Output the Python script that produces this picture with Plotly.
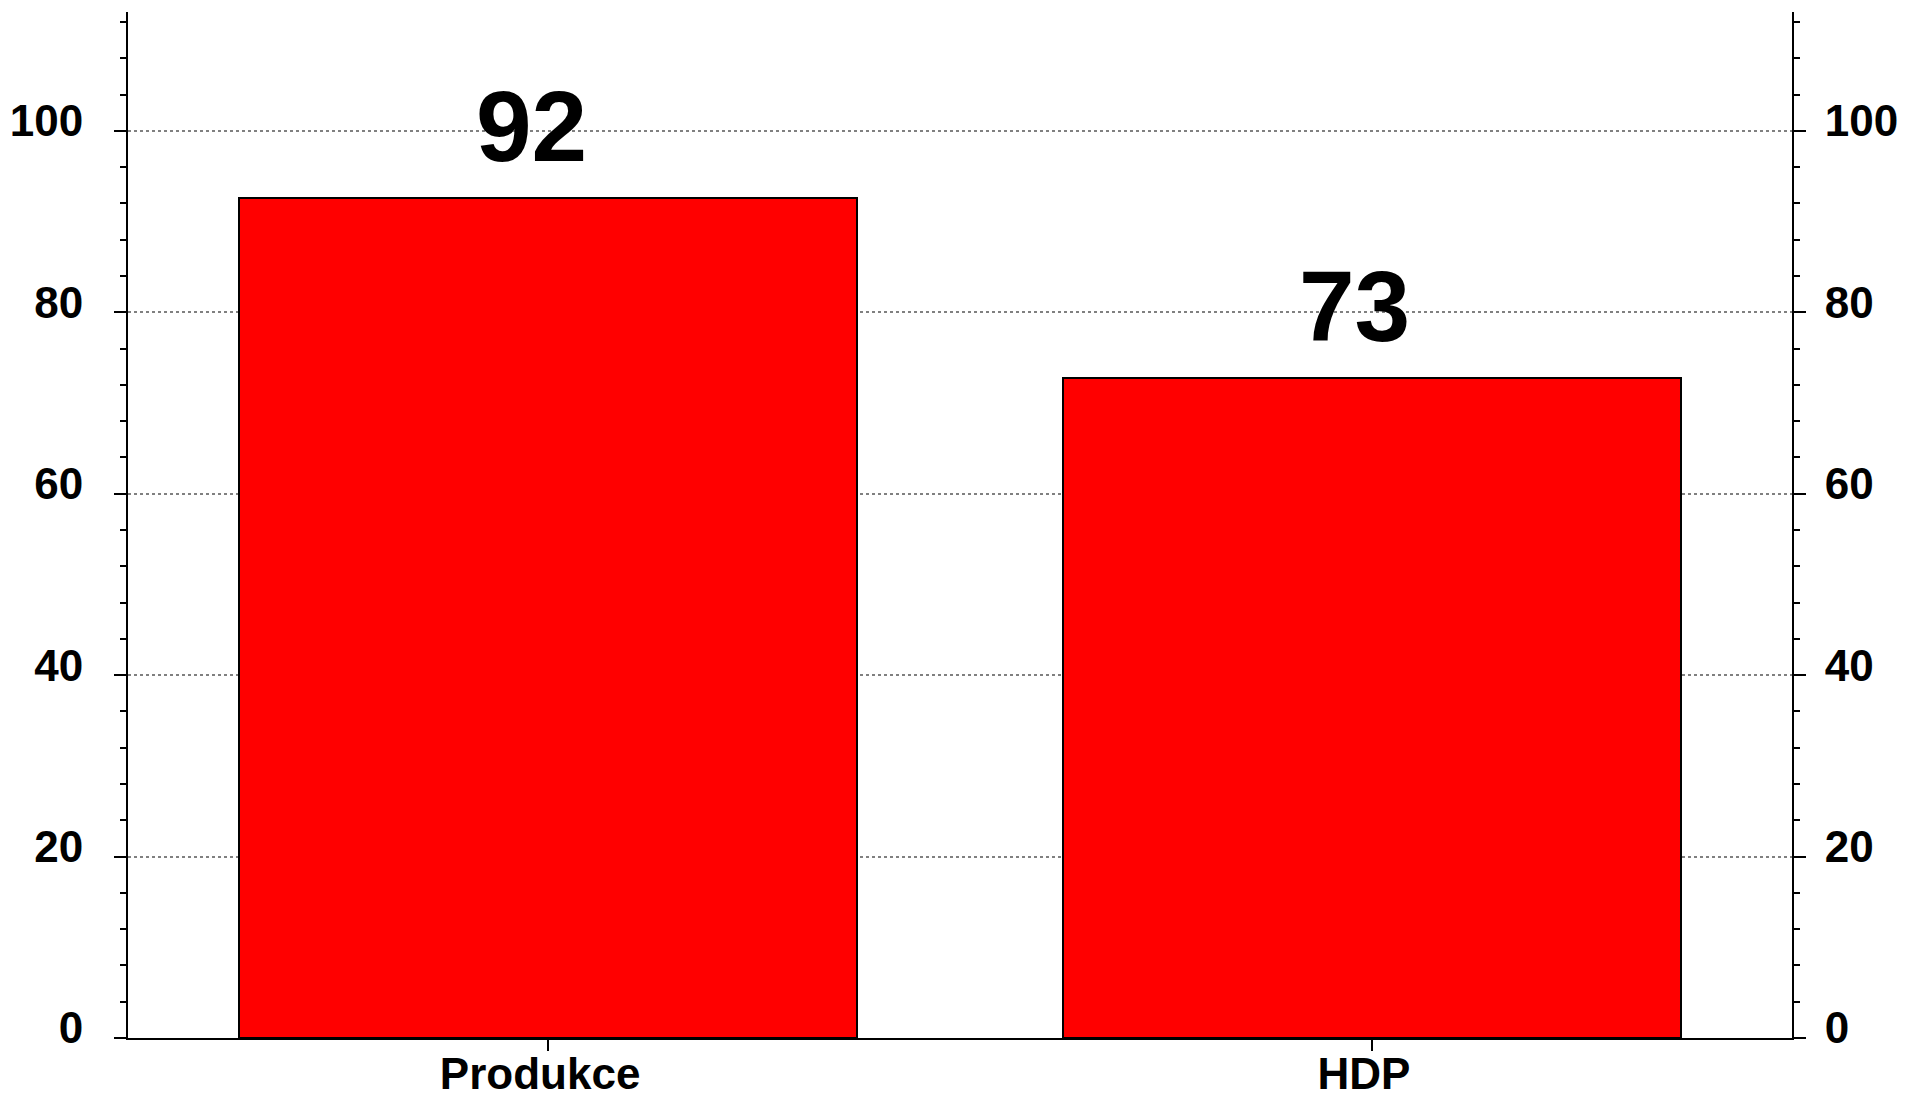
import plotly.graph_objects as go

categories = ["Produkce", "HDP"]
values = [92.6, 72.8]
value_labels = ["92", "73"]
y_ticks = [0, 20, 40, 60, 80, 100]

FONT = "Liberation Sans, Arial, sans-serif"

fig = go.Figure()
fig.add_trace(go.Bar(
    x=categories, y=values, width=0.75,
    marker=dict(color="#ff0000", line=dict(color="black", width=2)),
    showlegend=False, hoverinfo="skip",
))
# invisible trace to activate right axis
fig.add_trace(go.Scatter(x=categories, y=values, yaxis="y2", mode="markers",
                         marker=dict(opacity=0), showlegend=False, hoverinfo="skip"))

for c, v, t in zip(categories, values, value_labels):
    fig.add_annotation(x=c, y=v, text="<b>%s</b>" % t, showarrow=False,
                       yanchor="bottom", yshift=14, xshift=-17,
                       font=dict(family=FONT, size=100, color="black"))

yr = [0, 113.1]
common_y = dict(
    range=yr, tickvals=y_ticks, ticks="outside", ticklen=12, tickwidth=2,
    tickcolor="black", showline=True, linecolor="black", linewidth=2,
    tickfont=dict(family=FONT, size=44, color="black", weight="bold"),
    minor=dict(dtick=4, tick0=0, ticks="outside", ticklen=6, tickwidth=2,
               tickcolor="black", showgrid=False),
    zeroline=False, fixedrange=True, automargin=False, ticklabelshift=-10,
)

fig.update_layout(
    template="none",
    width=1901, height=1090,
    margin=dict(l=120, r=117, t=4, b=60),
    paper_bgcolor="white", plot_bgcolor="white",
    bargap=0,
    xaxis=dict(range=[-0.51, 1.51], showline=True, linecolor="black", linewidth=2,
               ticks="outside", ticklen=11, tickwidth=2, tickcolor="black",
               tickfont=dict(family=FONT, size=44, color="black", weight="bold"),
               showgrid=False, zeroline=False, automargin=False, fixedrange=True,
               ticklabelstandoff=-15, ticklabelshift=-8),
    yaxis=dict(**common_y, showgrid=True, gridcolor="#808080", gridwidth=2,
               griddash="dot", side="left", ticklabelstandoff=22),
    yaxis2=dict(**common_y, showgrid=False, overlaying="y", side="right",
                ticklabelstandoff=10),
)

fig.write_html("out.html")
